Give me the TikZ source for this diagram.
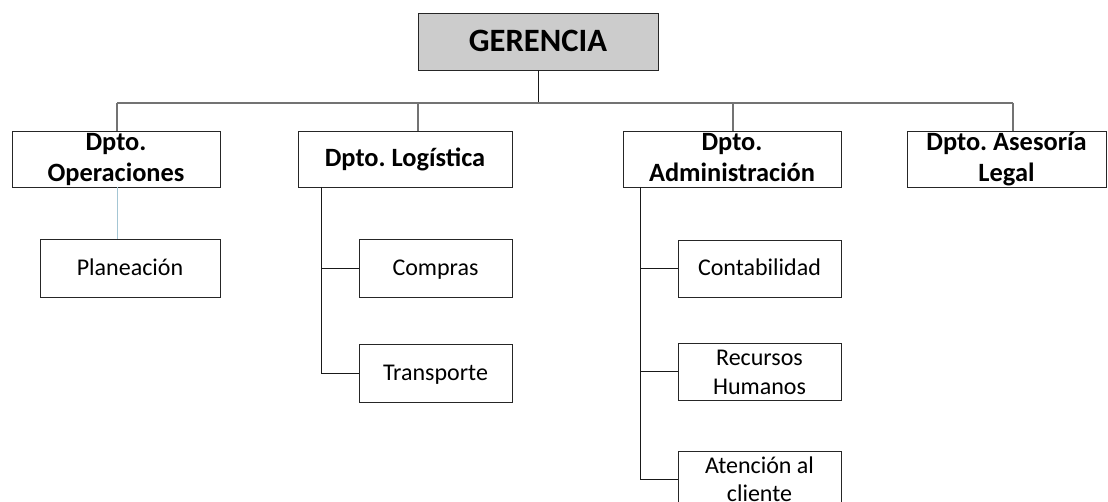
\documentclass[tikz,border=0pt]{standalone}
\usepackage{fontspec}
\setmainfont{Carlito}
\begin{document}
\frenchspacing
\begin{tikzpicture}[x=1pt,y=-1pt,
  box/.style={draw=black!85,line width=0.9pt,inner sep=0pt,align=center,fill=white},
  head/.style={box,fill=black!20,minimum width=240pt,minimum height=57pt,text height=24pt,text depth=3pt,font=\fontsize{32.6}{36}\selectfont\bfseries},
  dept/.style={box,minimum height=56pt,text height=20pt,text depth=4pt,font=\fontsize{26.4}{31}\selectfont\bfseries},
  dept2/.style={box,minimum height=56pt,text height=51pt,text depth=5pt,font=\fontsize{26.4}{31}\selectfont\bfseries},
  sub/.style={box,minimum height=58pt,text height=17pt,text depth=2pt,font=\fontsize{24}{28.5}\selectfont},
  sub2/.style={box,minimum height=56pt,text height=47.5pt,text depth=2pt,font=\fontsize{24}{28.5}\selectfont},
  bus/.style={draw=black!55,line width=1.3pt},
  link/.style={draw=black!90,line width=0.9pt},
  blue/.style={draw=cyan!40!gray!60,line width=0.9pt}]
\useasboundingbox[fill=white] (0,0) rectangle (1108,502);
\begin{scope}
\clip (0,0) rectangle (1108,502);
\node[head] (ger) at (538,41.5) {GERENCIA};
\node[dept2,minimum width=208pt] (ops) at (116,159) {Dpto.\\Operaciones};
\node[dept,minimum width=214pt] (log) at (405,159) {Dpto. Logística};
\node[dept2,minimum width=218pt] (adm) at (732,159) {Dpto.\\Administración};
\node[dept2,minimum width=199pt] (leg) at (1006.5,159) {Dpto. Asesoría\\Legal};
\node[sub,minimum width=180pt] (pla) at (130,268) {Planeación};
\node[sub,minimum width=153pt] (com) at (435.5,268) {Compras};
\node[sub,minimum width=153pt] (tra) at (435.5,373) {Transporte};
\node[sub,minimum width=163pt,minimum height=57pt] (con) at (759.5,268.5) {Contabilidad};
\node[sub2,minimum width=163pt,minimum height=57pt] (rec) at (759.5,371.5) {Recursos\\Humanos};
\node[sub2,minimum width=163pt] (ate) at (759.5,479) {Atención al\\cliente};
\coordinate (busL) at (117,103);
\coordinate (busR) at (1013,103);
\coordinate (busG) at (538,103);
\coordinate (tlog) at (321,187);
\coordinate (tadm) at (640,187);
\draw[link] (ger.south) -- (busG);
\draw[bus] (busL) -- (busR);
\draw[bus] (busL) -- (busL |- ops.north);
\draw[bus] (418,103) -- (418,131);
\draw[bus] (733,103) -- (733,131);
\draw[bus] (busR) -- (busR |- leg.north);
\draw[blue] (117,187) -- (117,239);
\draw[link] (tlog) |- (tra.west);
\draw[link] (tlog |- com.west) -- (com.west);
\draw[link] (tadm) |- (ate.west);
\draw[link] (tadm |- con.west) -- (con.west);
\draw[link] (tadm |- rec.west) -- (rec.west);
\end{scope}
\end{tikzpicture}
\end{document}
